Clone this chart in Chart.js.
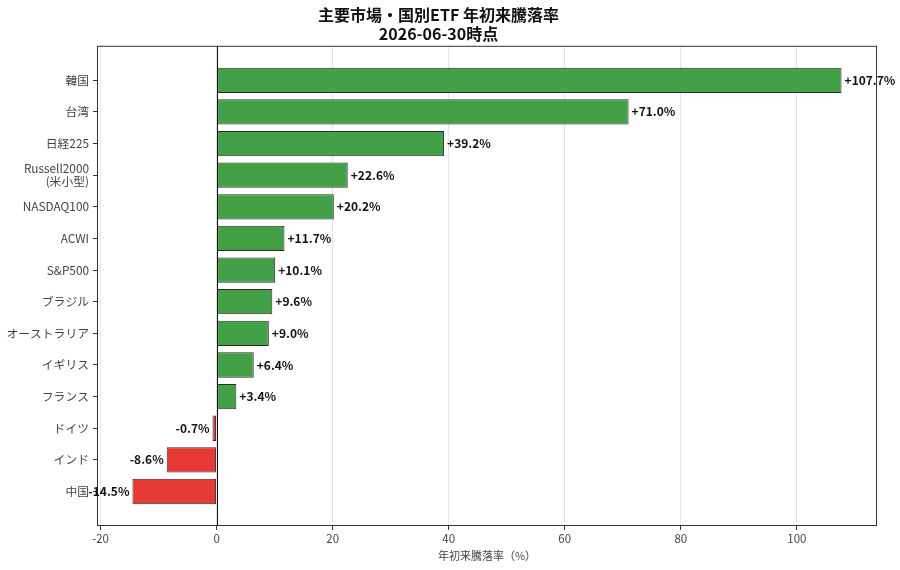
<!DOCTYPE html>
<html>
<head>
<meta charset="utf-8">
<script src="https://cdn.jsdelivr.net/npm/chart.js@4.4.1/dist/chart.umd.min.js"></script>
<style>
html,body{margin:0;padding:0;background:#fff;}
#wrap{width:900px;height:570px;}
</style>
</head>
<body>
<div id="wrap"><canvas id="c" width="900" height="570"></canvas></div>
<script>
const categories = ['韓国','台湾','日経225','Russell2000\n(米小型)','NASDAQ100','ACWI','S&P500','ブラジル','オーストラリア','イギリス','フランス','ドイツ','インド','中国'];
const values = [107.7, 71.0, 39.2, 22.6, 20.2, 11.7, 10.1, 9.6, 9.0, 6.4, 3.4, -0.7, -8.6, -14.5];
const xTicks = [-20, 0, 20, 40, 60, 80, 100];
const titleLines = ['主要市場・国別ETF 年初来騰落率', '2026-06-30時点'];
const xTitle = '年初来騰落率（%）';

const FONT = "'Noto Sans CJK JP', 'Noto Sans', sans-serif";
const GREEN = '#43a047';
const RED = '#e53935';

const points = values.map((v, i) => ({x: v, y: i}));
const colors = values.map(v => v >= 0 ? GREEN : RED);

const vmin = Math.min(0, ...values), vmax = Math.max(0, ...values);
const xm = (vmax - vmin) * 0.05;
const n = categories.length;
const ym = (n - 1 + 0.8) * 0.05;

const framePlugin = {
  id: 'frame',
  afterDatasetsDraw(chart) {
    const {ctx, chartArea: a, scales} = chart;
    ctx.save();
    const x0 = Math.round(scales.x.getPixelForValue(0)) + 0.5;
    ctx.strokeStyle = '#111';
    ctx.lineWidth = 1;
    ctx.beginPath();
    ctx.moveTo(x0, a.top);
    ctx.lineTo(x0, a.bottom);
    ctx.stroke();
    ctx.strokeStyle = '#333';
    ctx.lineWidth = 1;
    ctx.strokeRect(a.left + 0.5, a.top + 0.5, a.right - a.left - 1, a.bottom - a.top - 1);
    ctx.font = "bold 12px " + FONT;
    ctx.fillStyle = '#111';
    ctx.textBaseline = 'middle';
    values.forEach((v, i) => {
      const px = scales.x.getPixelForValue(v);
      const py = scales.y.getPixelForValue(i);
      const s = (v >= 0 ? '+' : '') + v.toFixed(1) + '%';
      if (v >= 0) { ctx.textAlign = 'left'; ctx.fillText(s, px + 3, py); }
      else { ctx.textAlign = 'right'; ctx.fillText(s, px - 3, py); }
    });
    ctx.restore();
  }
};

new Chart(document.getElementById('c'), {
  type: 'bar',
  data: {
    datasets: [{
      data: points,
      backgroundColor: colors,
      borderColor: '#2b2b2b',
      borderWidth: 1,
      borderSkipped: false,
      categoryPercentage: 1.0,
      barPercentage: 0.8
    }]
  },
  options: {
    indexAxis: 'y',
    responsive: false,
    animation: false,
    devicePixelRatio: 1,
    layout: {padding: {left: 0, right: 23, top: 0, bottom: 8}},
    plugins: {
      legend: {display: false},
      tooltip: {enabled: false},
      title: {
        display: true,
        text: titleLines,
        color: '#111',
        font: {family: FONT, size: 16, weight: 'bold', lineHeight: 1.15},
        padding: {top: 6, bottom: 3}
      }
    },
    scales: {
      x: {
        type: 'linear',
        min: vmin - xm,
        max: vmax + xm,
        afterBuildTicks(s) { s.ticks = xTicks.map(v => ({value: v})); },
        afterFit(s) { s.height = 36; },
        grid: {
          drawOnChartArea: true,
          color: '#e4e4e4',
          lineWidth: 1,
          tickColor: '#333',
          tickLength: 4
        },
        border: {display: false},
        ticks: {color: '#444', font: {family: FONT, size: 11.5}, padding: 2},
        title: {display: true, text: xTitle, color: '#444', font: {family: FONT, size: 11}, padding: {top: 0, bottom: 0}}
      },
      y: {
        type: 'linear',
        reverse: true,
        offset: false,
        min: -0.4 - ym,
        max: n - 1 + 0.4 + ym,
        afterBuildTicks(s) { s.ticks = categories.map((c, i) => ({value: i})); },
        afterFit(s) { s.width = 97; },
        grid: {drawOnChartArea: false, offset: false, tickColor: '#333', tickLength: 4},
        border: {display: false},
        ticks: {
          color: '#444',
          font: {family: FONT, size: 11.8, lineHeight: 1.1},
          padding: 4,
          autoSkip: false,
          callback(v) {
            const c = categories[v];
            return c === undefined ? '' : c.split('\n');
          }
        }
      }
    }
  },
  plugins: [framePlugin]
});
</script>
</body>
</html>
